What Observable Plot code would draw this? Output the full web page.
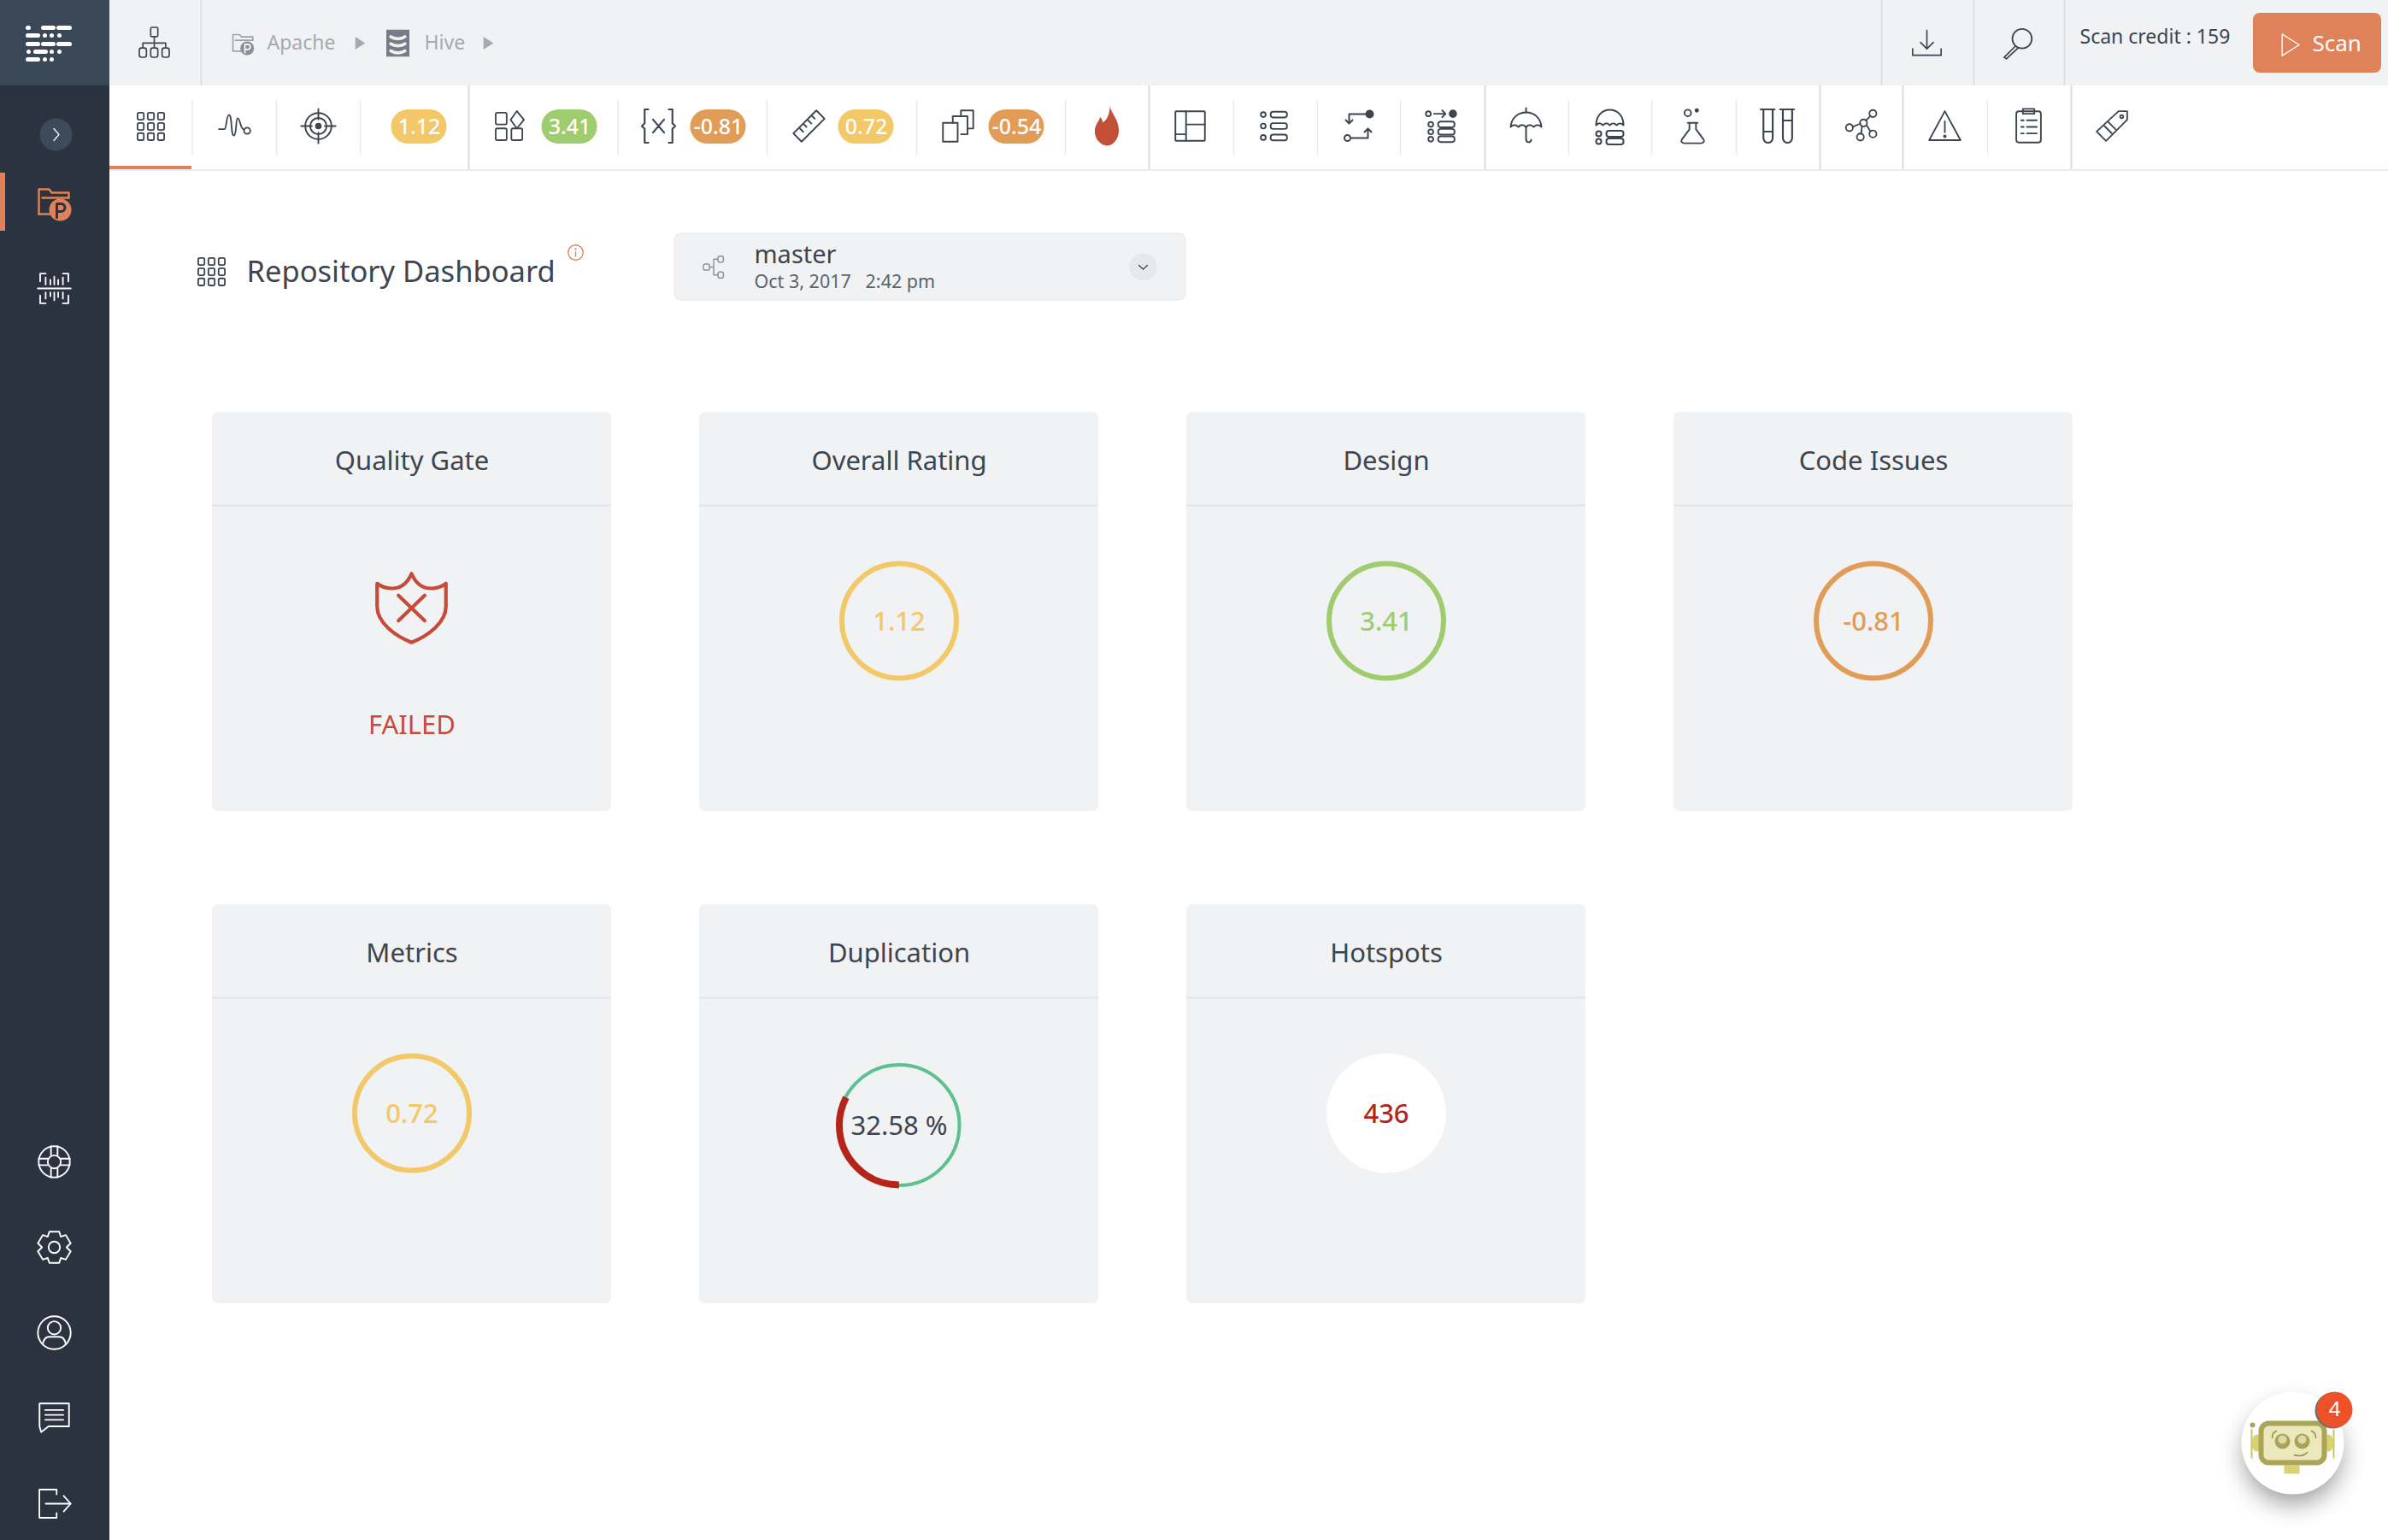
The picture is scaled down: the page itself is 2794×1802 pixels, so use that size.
<!DOCTYPE html>
<html>
<head>
<meta charset="utf-8">
<script src="https://cdn.jsdelivr.net/npm/d3@7"></script>
<script src="https://cdn.jsdelivr.net/npm/@observablehq/plot@0.6"></script>
<style>
  html, body { margin: 0; padding: 0; background: #fff; overflow: hidden; }
  svg { display: block; }
</style>
</head>
<body>
<div id="chart"></div>
<script>
// values
const cardTitles = ["Quality Gate", "Overall Rating", "Design", "Code Issues", "Metrics", "Duplication", "Hotspots"];
const gateStatus = "FAILED";
const ratingCards = ["Overall Rating", "Design", "Code Issues", "Metrics"];
const ratingValues = [1.12, 3.41, -0.81, 0.72];
const duplicationPercent = 32.58;
const hotspotCount = 436;
const badgeValues = [1.12, 3.41, -0.81, 0.72, -0.54];
const breadcrumbs = ["Apache", "Hive"];
const branchName = "master";
const branchDate = "Oct 3, 2017   2:42 pm";
const scanCredit = "Scan credit : 159";
const pageTitle = "Repository Dashboard";
const notificationCount = 4;

// palette
const DARK = "#3c4550", PANEL = "#f0f2f4", LINE = "#e2e4e9", ORANGE = "#e08259", NAVY = "#2b3240";
const FONT = "Noto Sans";
const ratingColor = (v) => (v >= 2 ? "#9fcc6e" : v >= 0 ? "#f3c869" : "#e19c57");

// layout
const W = 2794, H = 1802;
const cardW = 467, cardH = 467, cardX0 = 248, cardY0 = 482, pitchX = 570, pitchY = 576;
const cardCol = (i) => cardX0 + (i % 4) * pitchX;
const cardRow = (i) => cardY0 + Math.floor(i / 4) * pitchY;
const cards = cardTitles.map((title, i) => ({title, x: cardCol(i), y: cardRow(i), cx: cardCol(i) + cardW / 2}));
const cardOf = (title) => cards.find((c) => c.title === title);
const ratings = ratingCards.map((title, i) => ({...cardOf(title), value: ratingValues[i]}));
const badgeX = [490, 666, 840, 1013, 1189];
const badges = badgeValues.map((value, i) => ({value, x: badgeX[i]}));
const softSeps = [224.5, 323, 421, 722.5, 897, 1072, 1246, 1443, 1541, 1638, 1835, 1932, 2031, 2325];
const hardSeps = [548, 1344, 1737, 2129, 2226, 2423];
const topSeps = [235, 2201, 2309, 2415];

// icons are small svg drawings placed with Plot.image
const icon = (body, {color = DARK, sw = 2, vb = "0 0 48 48"} = {}) =>
  "data:image/svg+xml," + encodeURIComponent(
    `<svg xmlns="http://www.w3.org/2000/svg" viewBox="${vb}" fill="none" stroke="${color}" stroke-width="${sw}" stroke-linecap="round" stroke-linejoin="round">${body}</svg>`);

const gridBody = d3.cross([7, 20, 33], [7, 20, 33]).map(([x, y]) => `<rect x="${x}" y="${y}" width="8" height="9" rx="2"/>`).join("");
const rowsBody = (ys) => ys.map((y) => `<circle cx="11" cy="${y}" r="3"/><rect x="20" y="${y - 3.5}" width="20" height="7" rx="3"/>`).join("");
const folderP = `<path d="M6 38V9h12l3 4h20v6"/><path d="M6 38h14"/><path d="M10 19h31"/>`;
const domePath = `<path d="M6 25C7 14 15 8 24 8s17 6 18 17c-3-3-6-3-9 0-3-3-6-3-9 0-3-3-6-3-9 0-3-3-6-3-9 0z"/>`;

const icons = {
  grid: icon(gridBody),
  pulse: icon(`<path d="M4 28h7c3 0 2-18 6-18s2 26 6 26 2-22 5-22 3 12 7 14"/><circle cx="40" cy="30" r="4"/>`),
  target: icon(`<circle cx="24" cy="24" r="16"/><circle cx="24" cy="24" r="10"/><circle cx="24" cy="24" r="3" fill="${DARK}"/><path d="M24 3v13M24 32v13M3 24h13M32 24h13"/>`),
  blocks: icon(`<rect x="6" y="7" width="14" height="15" rx="2"/><path d="M33 5l9 11-9 11-8-11z"/><rect x="6" y="27" width="14" height="15" rx="2"/><rect x="26" y="27" width="14" height="15" rx="2"/>`),
  braces: icon(`<path d="M13 6H9v15l-3 3 3 3v15h4M35 6h4v15l3 3-3 3v15h-4M18 17l12 14M30 17L18 31"/>`),
  ruler: icon(`<path d="M33 5l10 10L15 43 5 33zM27 11l4 4M22 16l5 5M17 21l4 4M12 26l5 5"/>`),
  copy: icon(`<path d="M28 12V5h15v22h-7"/><path d="M18 20v-8h18v22h-8"/><path d="M6 20h18v23H6z"/>`),
  flame: icon(`<path d="M27 1c1 9 10 15 10 28 0 9-6 17-13 17S10 39 10 30c0-7 4-10 6-16 2 2 3 4 3 6 5-3 8-10 8-19z" fill="#c24f38" stroke="none"/>`),
  layout: icon(`<rect x="6" y="6" width="36" height="36" rx="1"/><path d="M19 6v36M19 22h23M6 34h13"/>`),
  list: icon(rowsBody([10, 24, 38])),
  flow: icon(`<circle cx="37" cy="10" r="4" fill="${DARK}"/><path d="M33 10H13v11M9 17l4 4 4-4"/><circle cx="11" cy="38" r="3.5"/><path d="M15 38h20V27M31 31l4-4 4 4"/>`),
  list2: icon(`<circle cx="8" cy="9" r="3"/><path d="M15 9h14M25 5l4 4-4 4"/><circle cx="38" cy="9" r="4" fill="${DARK}"/>` + rowsBody([22, 31, 40])),
  umbrella: icon(domePath + `<path d="M24 3v5M24 25v14c0 5 6 5 6 1"/>`),
  umbrellaList: icon(`<path d="M8 23C8 12 15 5 24 5s16 7 16 18c-3-3-5-3-8 0-3-3-5-3-8 0-3-3-5-3-8 0-3-3-5-3-8 0z"/>` + rowsBody([33, 42])),
  flask: icon(`<path d="M18 20h12M20 20v8L11 40c-2 3 0 5 3 5h20c3 0 5-2 3-5l-9-12v-8"/><circle cx="18" cy="8" r="4"/><circle cx="29" cy="5" r="1.6" fill="${DARK}"/>`),
  tubes: icon(`<path d="M6 6h15M9 6v31a5 5 0 0 0 10 0V6M27 6h15M30 6v31a5 5 0 0 0 10 0V6M9 30h10M30 18h10"/>`),
  share: icon(`<circle cx="8" cy="26" r="4.5"/><circle cx="26" cy="20" r="4.5"/><circle cx="38" cy="8" r="4.5"/><circle cx="38" cy="34" r="4.5"/><circle cx="22" cy="38" r="4.5"/><path d="M12 25l10-4M29 17l6-6M30 23l5 8M24 24l-1 10"/>`),
  warning: icon(`<path d="M24 5l20 37H4zM24 18v14"/><circle cx="24" cy="37" r="1.2" fill="${DARK}"/>`),
  clipboard: icon(`<rect x="9" y="6" width="30" height="38" rx="3"/><path d="M17 3h14v6H17zM15 17h3M22 17h12M15 25h3M22 25h12M15 33h3M22 33h12"/>`),
  tag: icon(`<path d="M33 5h11v11L17 43 5 31zM15 24l9 9M20 19l9 9"/><circle cx="37" cy="12" r="2"/>`),
  download: icon(`<path d="M24 6v26M15 23l9 9 9-9M4 32v9h40v-9"/>`),
  magnifier: icon(`<circle cx="29" cy="18" r="13"/><path d="M20 28L5 43l3 2 15-14"/>`),
  play: icon(`<path d="M10 5l30 19-30 19z"/>`, {color: "#fff"}),
  hierarchy: icon(`<rect x="19" y="3" width="10" height="13" rx="2"/><path d="M24 16v9M8 32v-7h32v7M24 25v7"/><rect x="3" y="32" width="10" height="13" rx="3"/><rect x="19" y="32" width="10" height="13" rx="3"/><rect x="35" y="32" width="10" height="13" rx="3"/>`),
  crumbFolder: icon(folderP + `<circle cx="31" cy="33" r="12" fill="#8b8f97" stroke="none"/><path d="M27 41V26h5a4 4 0 0 1 0 9h-5" stroke="#fff"/>`, {color: "#9da1a8", sw: 2.4}),
  crumbDb: icon(`<rect x="6" y="3" width="36" height="42" fill="#787c88" stroke="none"/><path d="M13 14c6 4 16 4 22 0M13 25c6 4 16 4 22 0M13 36c6 4 16 4 22 0" stroke="#f0f2f4" stroke-width="5"/>`),
  crumbArrow: icon(`<path d="M10 6l28 18-28 18z" fill="#a6a9b2" stroke="none"/>`),
  logo: icon([
    [32, 33, 32], [50, 62, 32], [68, 81, 32],
    [32, 44, 41], [52, 52, 41], [60, 60, 41], [69, 69, 41],
    [32, 44, 51], [50, 62, 51], [68, 81, 51],
    [33, 33, 60], [41, 53, 60], [60, 60, 60], [69, 69, 60],
    [32, 44, 69], [52, 52, 69], [60, 60, 69]
  ].map(([a, b, y]) => `<path d="M${a} ${y}H${b}"/>`).join(""), {color: "#fff", sw: 5, vb: "24 17 64 64"}),
  chevronRight: icon(`<path d="M19 10l12 14-12 14"/>`, {color: "#fff", sw: 2.5}),
  folderActive: icon(folderP + `<circle cx="31" cy="33" r="13" fill="${ORANGE}" stroke="none"/><path d="M27 42V26h5a4 4 0 0 1 0 9h-5" stroke="${NAVY}" stroke-width="3"/>`, {color: ORANGE, sw: 2.4}),
  scanner: icon(`<path d="M6 15V5h7M35 5h7v10M6 33v10h7M35 43h7V33M3 24h42M13 10v9M19 13v6M24 9v10M29 13v6M35 10v9M13 29v8M19 29v5M24 29v10M29 29v6M35 29v8"/>`, {color: "#fff"}),
  lifebuoy: icon(`<circle cx="24" cy="24" r="19"/><circle cx="24" cy="24" r="8"/><path d="M20 5v11M28 5v11M20 32v11M28 32v11M5 20h11M5 28h11M32 20h11M32 28h11"/>`, {color: "#fff"}),
  gear: icon(`<circle cx="24" cy="24" r="7"/><path d="M18 5h12l2 6 6-2 6 10-5 5 5 5-6 10-6-2-2 6H18l-2-6-6 2-6-10 5-5-5-5 6-10 6 2z"/>`, {color: "#fff"}),
  user: icon(`<circle cx="24" cy="24" r="20"/><circle cx="24" cy="18" r="8"/><path d="M10 38c1-6 4-9 8-9h12c4 0 7 3 8 9"/>`, {color: "#fff"}),
  chat: icon(`<path d="M6 7h36v28H17l-9 7-2-7z"/><path d="M13 15h22M13 21h22M13 27h22"/>`, {color: "#fff"}),
  logout: icon(`<path d="M27 12V6H5v36h22v-6M13 24h32M36 14l9 10-9 10"/>`, {color: "#fff"}),
  pageGrid: icon(gridBody),
  info: icon(`<circle cx="24" cy="24" r="19"/><path d="M24 22v12"/><circle cx="24" cy="15" r="1" fill="${ORANGE}"/>`, {color: ORANGE, sw: 3}),
  branch: icon(`<rect x="5" y="19" width="10" height="10" rx="3"/><rect x="29" y="6" width="9" height="10" rx="3"/><rect x="29" y="32" width="9" height="10" rx="3"/><path d="M15 24h7V11h7M22 24v13h7"/>`, {color: "#8b9099"}),
  chevronDown: icon(`<path d="M12 19l12 11 12-11"/>`, {sw: 3}),
  shield: icon(`<path d="M48 6C53 18 62 24 72 24 80 24 86 21 90 18V46C90 66 68 82 48 90 28 82 6 66 6 46V18C10 21 16 24 24 24 34 24 43 18 48 6z"/><path d="M32 32.500l32 31M64 32.500l-32 31"/>`, {color: "#c44c38", sw: 4.4, vb: "0 0 96 96"}),
  robot: "data:image/svg+xml," + encodeURIComponent(`<svg xmlns="http://www.w3.org/2000/svg" viewBox="0 0 240 240">
    <defs><filter id="b" x="-60%" y="-60%" width="220%" height="220%"><feGaussianBlur stdDeviation="15"/></filter></defs>
    <circle cx="120" cy="134" r="56" fill="#000" opacity=".42" filter="url(#b)"/>
    <circle cx="120" cy="120" r="60" fill="#fff"/>
    <path d="M72 104v34M168 104v34" stroke="#c9c46a" stroke-width="2"/><circle cx="73" cy="99" r="3" fill="#a9a553"/>
    <ellipse cx="78" cy="120" rx="6" ry="10" fill="#d8d36f"/><ellipse cx="162" cy="120" rx="6" ry="10" fill="#d8d36f"/>
    <rect x="110" y="146" width="18" height="10" fill="#d8d36f"/>
    <rect x="80" y="94" width="80" height="52" rx="12" fill="#aba557"/>
    <rect x="86" y="100" width="68" height="40" rx="6" fill="#ebe8bd"/>
    <path d="M96 114c0-4 2-7 5-8M147 114c0-4-2-7-5-8" fill="none" stroke="#8e8a42" stroke-width="1.4" stroke-linecap="round"/>
    <circle cx="108" cy="118" r="9" fill="#a9a35a"/><circle cx="108" cy="116" r="5" fill="#dedaa6"/>
    <circle cx="131" cy="118" r="9" fill="#a9a35a"/><circle cx="131" cy="116" r="5" fill="#dedaa6"/>
    <path d="M122 134c6 2 11 1 15-3" fill="none" stroke="#8e8a42" stroke-width="1.6" stroke-linecap="round"/>
    </svg>`)
};

const placed = [
  ["logo", 56, 49, 64], ["hierarchy", 180, 49, 40], ["crumbFolder", 284, 50, 32], ["crumbArrow", 421, 50, 20],
  ["crumbDb", 465, 50, 36], ["crumbArrow", 571, 50, 20], ["download", 2254, 50, 40], ["magnifier", 2361, 50, 42],
  ["play", 2679, 52, 32],
  ["grid", 176, 147, 44], ["pulse", 274, 147, 44], ["target", 372, 147, 46], ["blocks", 596, 147, 44],
  ["braces", 770, 147, 52], ["ruler", 946, 147, 46], ["copy", 1120, 147, 46], ["flame", 1295, 147, 50],
  ["layout", 1392, 147, 46], ["list", 1490, 147, 46], ["flow", 1589, 147, 48], ["list2", 1686, 147, 46],
  ["umbrella", 1785, 147, 48], ["umbrellaList", 1883, 147, 48], ["flask", 1980, 147, 46], ["tubes", 2079, 147, 52],
  ["share", 2178, 147, 44], ["warning", 2275, 147, 44], ["clipboard", 2373, 147, 46], ["tag", 2470, 147, 44],
  ["chevronRight", 65, 157, 24], ["folderActive", 63, 236, 48], ["scanner", 63, 337, 44],
  ["lifebuoy", 63, 1359, 46], ["gear", 63, 1459, 46], ["user", 63, 1559, 46], ["chat", 63, 1658, 46], ["logout", 63, 1759, 44],
  ["pageGrid", 247, 317, 44], ["info", 673, 295, 22], ["branch", 836, 312, 34], ["chevronDown", 1337, 312, 20],
  ["shield", 481, 711, 92], ["robot", 2682, 1688, 240]
].map(([name, x, y, size]) => ({src: icons[name], x, y, size}));

const labels = [
  {text: breadcrumbs[0], x: 312, y: 50, size: 23, fill: "#a6a9b2"},
  {text: breadcrumbs[1], x: 496, y: 50, size: 23, fill: "#a6a9b2"},
  {text: scanCredit, x: 2433, y: 43, size: 23, fill: DARK},
  {text: "Scan", x: 2705, y: 51, size: 26, fill: "#fff"},
  {text: pageTitle, x: 288, y: 318, size: 34.5, fill: DARK},
  {text: branchName, x: 882, y: 298, size: 29, fill: DARK},
  {text: branchDate, x: 882, y: 330, size: 21.5, fill: "#5c6470"}
];

const C = 2 * Math.PI * 70; // circumference of the duplication ring
const dup = cardOf("Duplication"), hot = cardOf("Hotspots"), gate = cardOf("Quality Gate");

const chart = Plot.plot({
  width: W, height: H,
  margin: 0,
  x: {domain: [0, W], range: [0, W], axis: null},
  y: {domain: [0, H], range: [0, H], axis: null},
  style: {background: "#fff", fontFamily: FONT},
  marks: [
    // chrome
    Plot.rect([0], {x1: 128, x2: W, y1: 0, y2: 100, fill: PANEL}),
    Plot.rect([0], {x1: 0, x2: 128, y1: 0, y2: H, fill: NAVY}),
    Plot.rect([0], {x1: 0, x2: 128, y1: 0, y2: 100, fill: "#3a4757"}),
    Plot.rect([0], {x1: 0, x2: 6, y1: 202, y2: 270, fill: ORANGE}),
    Plot.rect([0], {x1: 128, x2: W, y1: 198, y2: 200, fill: "#ebecf0"}),
    Plot.rect([0], {x1: 128, x2: 224, y1: 194, y2: 198, fill: ORANGE}),
    Plot.rect([0], {x1: 2636, x2: 2786, y1: 15, y2: 85, rx: 8, fill: ORANGE}),
    Plot.dot([0], {x: 65, y: 157, r: 19, fill: "#3d4a5a"}),
    Plot.rect([0], {x1: 789, x2: 1387, y1: 273, y2: 351, rx: 8, fill: PANEL, stroke: "#e4e6e9"}),
    Plot.dot([0], {x: 1337, y: 312, r: 16, fill: "#e6e8ea"}),
    Plot.ruleX(softSeps, {y1: 117, y2: 181, stroke: "#e8e9ec", strokeWidth: 1.5}),
    Plot.ruleX(hardSeps, {y1: 100, y2: 198, stroke: "#d9dbdf", strokeWidth: 2}),
    Plot.ruleX(topSeps, {y1: 0, y2: 100, stroke: "#d9dbdf", strokeWidth: 1.5}),

    // toolbar badges
    Plot.rect(badges, {x1: (d) => d.x - 32.5, x2: (d) => d.x + 32.5, y1: 128, y2: 168, rx: 20, fill: (d) => ratingColor(d.value)}),
    Plot.text(badges, {x: "x", y: 148, text: (d) => String(d.value), fill: "#fff", fontSize: 25, fontWeight: 500, fontFamily: FONT}),

    // cards
    Plot.rect(cards, {x1: "x", x2: (d) => d.x + cardW, y1: "y", y2: (d) => d.y + cardH, rx: 7, fill: PANEL}),
    Plot.ruleY(cards, {x1: "x", x2: (d) => d.x + cardW, y: (d) => d.y + 109, stroke: LINE, strokeWidth: 2}),
    Plot.text(cards, {x: "cx", y: (d) => d.y + 57.5, text: "title", fill: DARK, fontSize: 31, fontFamily: FONT}),

    // rating rings
    Plot.dot(ratings, {x: "cx", y: (d) => d.y + 244, r: 67, stroke: (d) => ratingColor(d.value), strokeWidth: 6, fill: "none"}),
    Plot.text(ratings, {x: "cx", y: (d) => d.y + 245.5, text: (d) => String(d.value), fill: (d) => ratingColor(d.value), fontSize: 31, fontWeight: 500, fontFamily: FONT}),

    // quality gate
    Plot.text([gateStatus], {x: gate.cx, y: 849, text: (d) => d, fill: "#c44c38", fontSize: 31, fontFamily: FONT}),

    // duplication ring: arc length follows the percentage, starting at the bottom
    Plot.dot([duplicationPercent], {x: dup.cx, y: 1316, r: 70.5, stroke: "#5cc08f", strokeWidth: 4, fill: "none"}),
    Plot.dot([duplicationPercent], {
      x: dup.cx, y: 1316, r: 70, stroke: "#b4241a", strokeWidth: 8, fill: "none",
      strokeDasharray: `${(C * duplicationPercent) / 100} ${C}`,
      strokeDashoffset: -C / 4
    }),
    Plot.text([duplicationPercent], {x: dup.cx, y: 1318, text: (d) => `${d} %`, fill: DARK, fontSize: 31, fontFamily: FONT}),

    // hotspots
    Plot.dot([hotspotCount], {x: hot.cx, y: 1302, r: 70, fill: "#fff"}),
    Plot.text([hotspotCount], {x: hot.cx, y: 1304, text: (d) => String(d), fill: "#b3261a", fontSize: 31, fontWeight: 500, fontFamily: FONT}),

    // icons and free labels
    Plot.image(placed, {x: "x", y: "y", src: "src", width: "size", height: "size"}),
    Plot.text(labels, {x: "x", y: "y", text: "text", fill: "fill", fontSize: "size", textAnchor: "start", fontFamily: FONT}),

    // notification bubble
    Plot.dot([notificationCount], {x: 2729, y: 1650, r: 21, fill: "#6d6d6d"}),
    Plot.dot([notificationCount], {x: 2731, y: 1649, r: 21, fill: "#ee5127"}),
    Plot.text([notificationCount], {x: 2731, y: 1649, text: (d) => String(d), fill: "#fff", fontSize: 24, fontFamily: FONT})
  ]
});

document.querySelector("#chart").append(chart);
</script>
</body>
</html>
